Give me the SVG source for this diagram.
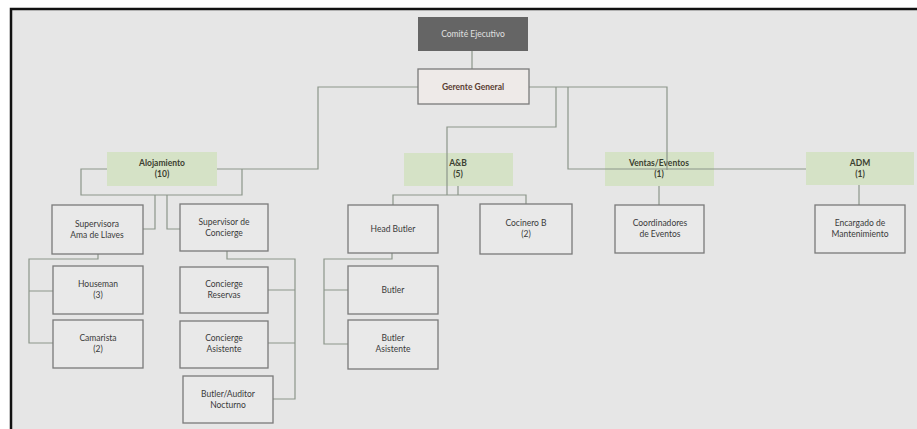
<svg xmlns="http://www.w3.org/2000/svg" width="917" height="429" viewBox="0 0 917 429">
<style>
text{font-family:"Lato","Liberation Sans",sans-serif;font-size:8.5px;fill:#3a3a3a;text-anchor:middle}
.box{fill:#e9e9e9;stroke:#7a7a7a;stroke-width:1.3}
.grp{fill:#d5e2c6;stroke:none}
.grp text{font-weight:bold;fill:#3b4030}
.con{fill:none;stroke:#8c968a;stroke-width:1.2}
</style>
<rect x="0" y="0" width="917" height="429" fill="#ffffff"/>
<rect x="12" y="9" width="905" height="420" fill="#e6e6e6"/>
<path d="M11 429 V9 H917" fill="none" stroke="#111" stroke-width="2.5"/>

<g id="connectors" class="con">
<path d="M472 51 V69"/>
<path d="M418 87 H318 V169 H81 V195 H242 V169"/>
<path d="M155 195 V229 H143 M167 195 V229 H180"/>
<path d="M98 254 V259 H29 V343 H53 M29 291 H53"/>
<path d="M227 251 V259 H295 V399 H273 M295 290 H268 M295 343 H268"/>
<path d="M529 87 H667 V170"/>
<path d="M556 87 V127 H447 V195"/>
<path d="M458 186 V195 M393 205 V195 H526 V204"/>
<path d="M392 253 V259 H324 V344 H348 M324 290 H348"/>
<path d="M568 87 V169 H807"/>
<path d="M659 186 V205"/>
<path d="M859 185 V205"/>
</g>

<g id="comite">
<rect x="418" y="17" width="110" height="34" fill="#656565"/>
<text x="473" y="37" style="fill:#e0e0e0">Comité Ejecutivo</text>
</g>
<g id="gerente">
<rect class="box" x="418" y="69" width="111" height="35" style="fill:#eeeae8"/>
<text x="473" y="90" style="fill:#5a3e33;font-weight:bold">Gerente General</text>
</g>

<g id="alojamiento" class="grp">
<rect x="107" y="152" width="110" height="34"/>
<text x="162" y="166">Alojamiento</text>
<text x="162" y="177">(10)</text>
</g>
<g id="ayb" class="grp">
<rect x="404" y="153" width="109" height="33"/>
<text x="458" y="166">A&amp;B</text>
<text x="458" y="177">(5)</text>
</g>
<g id="ventas" class="grp">
<rect x="605" y="152" width="109" height="34"/>
<text x="659" y="166">Ventas/Eventos</text>
<text x="659" y="177">(1)</text>
</g>
<g id="adm" class="grp">
<rect x="806" y="152" width="108" height="33"/>
<text x="860" y="166">ADM</text>
<text x="860" y="177">(1)</text>
</g>

<path d="M667 152 V170 M605 169 H714" fill="none" stroke="#8c968a" stroke-width="1.2"/>
<path d="M447 153 V186" fill="none" stroke="#8c968a" stroke-width="1.2"/>

<g id="supervisora">
<rect class="box" x="52" y="205" width="91" height="49"/>
<text x="97" y="227">Supervisora</text>
<text x="97" y="238">Ama de Llaves</text>
</g>
<g id="supconcierge">
<rect class="box" x="180" y="204" width="88" height="47"/>
<text x="224" y="225">Supervisor de</text>
<text x="224" y="236">Concierge</text>
</g>
<g id="houseman">
<rect class="box" x="53" y="266" width="90" height="48"/>
<text x="98" y="287">Houseman</text>
<text x="98" y="298">(3)</text>
</g>
<g id="camarista">
<rect class="box" x="53" y="320" width="90" height="48"/>
<text x="98" y="341">Camarista</text>
<text x="98" y="352">(2)</text>
</g>
<g id="cres">
<rect class="box" x="180" y="267" width="88" height="46"/>
<text x="224" y="287">Concierge</text>
<text x="224" y="298">Reservas</text>
</g>
<g id="casis">
<rect class="box" x="180" y="321" width="88" height="47"/>
<text x="224" y="341">Concierge</text>
<text x="224" y="352">Asistente</text>
</g>
<g id="auditor">
<rect class="box" x="183" y="376" width="90" height="47"/>
<text x="228" y="397">Butler/Auditor</text>
<text x="228" y="408">Nocturno</text>
</g>

<g id="headbutler">
<rect class="box" x="348" y="205" width="90" height="48"/>
<text x="393" y="232">Head Butler</text>
</g>
<g id="cocinero">
<rect class="box" x="480" y="204" width="92" height="50"/>
<text x="526" y="226">Cocinero B</text>
<text x="526" y="237">(2)</text>
</g>
<g id="butler">
<rect class="box" x="348" y="266" width="90" height="48"/>
<text x="393" y="293">Butler</text>
</g>
<g id="butlerasis">
<rect class="box" x="348" y="320" width="90" height="49"/>
<text x="393" y="341">Butler</text>
<text x="393" y="352">Asistente</text>
</g>

<g id="coordinadores">
<rect class="box" x="615" y="205" width="89" height="48"/>
<text x="660" y="226">Coordinadores</text>
<text x="660" y="237">de Eventos</text>
</g>
<g id="encargado">
<rect class="box" x="815" y="205" width="90" height="48"/>
<text x="860" y="226">Encargado de</text>
<text x="860" y="237">Mantenimiento</text>
</g>
</svg>
